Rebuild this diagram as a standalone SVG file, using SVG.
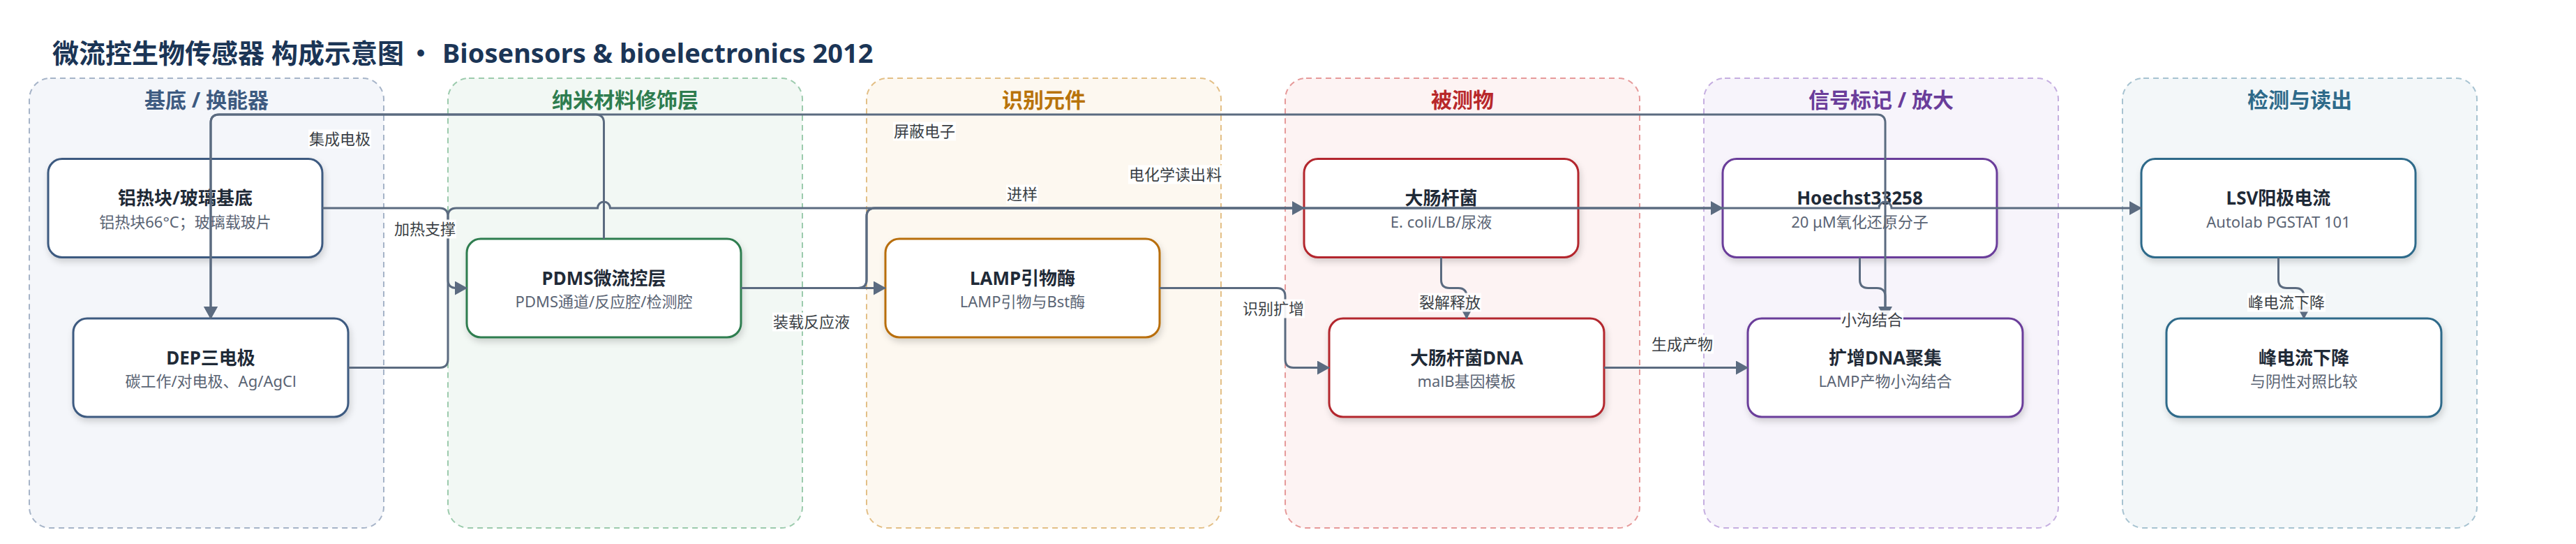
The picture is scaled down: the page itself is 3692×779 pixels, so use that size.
<svg xmlns="http://www.w3.org/2000/svg" width="3692" height="779" viewBox="0 0 3692 779">
<defs>
<style>
text{font-family:"Noto Sans","Noto Sans CJK SC",sans-serif}
.title{font-size:38px;font-weight:700;fill:#1b3556}
.cl{stroke-width:2;stroke-dasharray:8 6}
.ct{font-size:30px;font-weight:700;text-anchor:middle}
.node{fill:#fff;stroke-width:3;filter:url(#sh)}
.nt{font-size:26px;font-weight:700;fill:#1f2a37;text-anchor:middle}
.ns{font-size:22px;fill:#5a6474;text-anchor:middle}
.e{fill:none;stroke:#5b6b80;stroke-width:3;marker-end:url(#ah)}
.lb{fill:#fff;fill-opacity:0.92}
.lt{font-size:22px;fill:#3a3f45;text-anchor:middle}
</style>
<marker id="ah" viewBox="0 0 18 20" markerWidth="18" markerHeight="20" refX="17" refY="10" orient="auto" markerUnits="userSpaceOnUse">
<path d="M0,0 L18,10 L0,20 z" fill="#5b6b80"/>
</marker>
<filter id="sh" x="-10%" y="-10%" width="120%" height="130%">
<feDropShadow dx="2" dy="5" stdDeviation="5" flood-color="#000" flood-opacity="0.16"/>
</filter>
</defs>
<rect width="3692" height="779" fill="#fff"/>
<text class="title" x="75" y="90">微流控生物传感器 构成示意图<tspan x="584" font-family="Noto Sans CJK SC">•</tspan><tspan x="634">Biosensors &amp; bioelectronics 2012</tspan></text>

<g id="clusters">
<g id="c1"><rect class="cl" x="42" y="112" width="508" height="644" rx="30" fill="#f4f6fa" stroke="#a6b4c8"/><text class="ct" x="296" y="154" fill="#3d5a80">基底 / 换能器</text></g>
<g id="c2"><rect class="cl" x="642" y="112" width="508" height="644" rx="30" fill="#f2f8f4" stroke="#9ccbad"/><text class="ct" x="896" y="154" fill="#2e7d4f">纳米材料修饰层</text></g>
<g id="c3"><rect class="cl" x="1242" y="112" width="508" height="644" rx="30" fill="#fdf8f0" stroke="#e3bf86"/><text class="ct" x="1496" y="154" fill="#b8730a">识别元件</text></g>
<g id="c4"><rect class="cl" x="1842" y="112" width="508" height="644" rx="30" fill="#fdf3f3" stroke="#e69a9a"/><text class="ct" x="2096" y="154" fill="#b8282a">被测物</text></g>
<g id="c5"><rect class="cl" x="2442" y="112" width="508" height="644" rx="30" fill="#f7f4fb" stroke="#c5aee0"/><text class="ct" x="2696" y="154" fill="#6a3d9a">信号标记 / 放大</text></g>
<g id="c6"><rect class="cl" x="3042" y="112" width="508" height="644" rx="30" fill="#f3f7f9" stroke="#a7c3d1"/><text class="ct" x="3296" y="154" fill="#2e6a8a">检测与读出</text></g>
</g>

<g id="n1"><rect class="node" x="69" y="227.5" width="393" height="141" rx="20" stroke="#3d5a80"/><text class="nt" x="265.5" y="293">铝热块/玻璃基底</text><text class="ns" x="265.5" y="325.5">铝热块66°C；玻璃载玻片</text></g>
<g id="n2"><rect class="node" x="105" y="456" width="394" height="141" rx="20" stroke="#3d5a80"/><text class="nt" x="302" y="521.5">DEP三电极</text><text class="ns" x="302" y="554">碳工作/对电极、Ag/AgCl</text></g>
<g id="n3"><rect class="node" x="669" y="342" width="393" height="141" rx="20" stroke="#2e7d4f"/><text class="nt" x="865.5" y="407.5">PDMS微流控层</text><text class="ns" x="865.5" y="440">PDMS通道/反应腔/检测腔</text></g>
<g id="n4"><rect class="node" x="1269" y="342" width="393" height="141" rx="20" stroke="#b86e0a"/><text class="nt" x="1465.5" y="407.5">LAMP引物酶</text><text class="ns" x="1465.5" y="440">LAMP引物与Bst酶</text></g>
<g id="n5"><rect class="node" x="1869" y="227.5" width="393" height="141" rx="20" stroke="#b3282d"/><text class="nt" x="2065.5" y="293">大肠杆菌</text><text class="ns" x="2065.5" y="325.5">E. coli/LB/尿液</text></g>
<g id="n6"><rect class="node" x="1905" y="456" width="394" height="141" rx="20" stroke="#b3282d"/><text class="nt" x="2102" y="521.5">大肠杆菌DNA</text><text class="ns" x="2102" y="554">malB基因模板</text></g>
<g id="n7"><rect class="node" x="2469" y="227.5" width="393" height="141" rx="20" stroke="#6a3d9a"/><text class="nt" x="2665.5" y="293">Hoechst33258</text><text class="ns" x="2665.5" y="325.5">20 μM氧化还原分子</text></g>
<g id="n8"><rect class="node" x="2505" y="456" width="394" height="141" rx="20" stroke="#6a3d9a"/><text class="nt" x="2702" y="521.5">扩增DNA聚集</text><text class="ns" x="2702" y="554">LAMP产物小沟结合</text></g>
<g id="n9"><rect class="node" x="3069" y="227.5" width="393" height="141" rx="20" stroke="#2e6a8a"/><text class="nt" x="3265.5" y="293">LSV阳极电流</text><text class="ns" x="3265.5" y="325.5">Autolab PGSTAT 101</text></g>
<g id="n10"><rect class="node" x="3105" y="456" width="394" height="141" rx="20" stroke="#2e6a8a"/><text class="nt" x="3302" y="521.5">峰电流下降</text><text class="ns" x="3302" y="554">与阴性对照比较</text></g>

<g id="connectors">
<path class="e" d="M462,298 H630 Q642,298 642,310 V400.5 Q642,412.5 654,412.5 H669"/>
<path class="e" d="M499,526.5 H630 Q642,526.5 642,514.5 V310 Q642,298 654,298 H856.5 A9,9 0 0 1 874.5,298 H2693 A9,9 0 0 1 2711,298 H3069"/>
<path class="e" d="M1062,412.5 H1230 Q1242,412.5 1242,400.5 V310 Q1242,298 1254,298 H1869"/>
<path class="e" d="M1062,412.5 H1269"/>
<path class="e" d="M1062,412.5 H1230 Q1242,412.5 1242,400.5 V310 Q1242,298 1254,298 H2469"/>
<path class="e" d="M865.5,342 V176 Q865.5,164 853.5,164 H314 Q302,164 302,176 V456"/>
<path class="e" d="M2702,456 V176 Q2702,164 2690,164 H314 Q302,164 302,176 V456"/>
<path class="e" d="M1662,412.5 H1830 Q1842,412.5 1842,424.5 V514.5 Q1842,526.5 1854,526.5 H1905"/>
<path class="e" d="M2065.5,368.5 V400.5 Q2065.5,412.5 2077.5,412.5 H2090 Q2102,412.5 2102,424.5 V456"/>
<path class="e" d="M2299,526.5 H2505"/>
<path class="e" d="M2665.5,368.5 V400.5 Q2665.5,412.5 2677.5,412.5 H2690 Q2702,412.5 2702,424.5 V456"/>
<path class="e" d="M3265.5,368.5 V400.5 Q3265.5,412.5 3277.5,412.5 H3290 Q3302,412.5 3302,424.5 V456"/>
</g>

<g id="edge-labels">
<rect class="lb" x="442" y="185.5" width="90" height="27"/><text class="lt" x="487" y="207">集成电极</text>
<rect class="lb" x="564" y="314.5" width="90" height="27"/><text class="lt" x="609" y="336">加热支撑</text>
<rect class="lb" x="1107" y="447.5" width="112" height="27"/><text class="lt" x="1163" y="469">装载反应液</text>
<rect class="lb" x="1280" y="174.5" width="90" height="27"/><text class="lt" x="1325" y="196">屏蔽电子</text>
<rect class="lb" x="1442" y="264.5" width="46" height="27"/><text class="lt" x="1465" y="286">进样</text>
<rect class="lb" x="1708" y="236.5" width="45" height="27"/><text class="lt" x="1740" y="258">料</text>
<rect class="lb" x="1617" y="236.5" width="112" height="27"/><text class="lt" x="1673" y="258">电化学读出</text>
<rect class="lb" x="1780" y="428.5" width="90" height="27"/><text class="lt" x="1825" y="450">识别扩增</text>
<rect class="lb" x="2033" y="419.5" width="90" height="27"/><text class="lt" x="2078" y="441">裂解释放</text>
<rect class="lb" x="2366" y="479.5" width="90" height="27"/><text class="lt" x="2411" y="501">生成产物</text>
<rect class="lb" x="2638" y="444.5" width="90" height="27"/><text class="lt" x="2683" y="466">小沟结合</text>
<rect class="lb" x="3221" y="419.5" width="112" height="27"/><text class="lt" x="3277" y="441">峰电流下降</text>
</g>
</svg>
